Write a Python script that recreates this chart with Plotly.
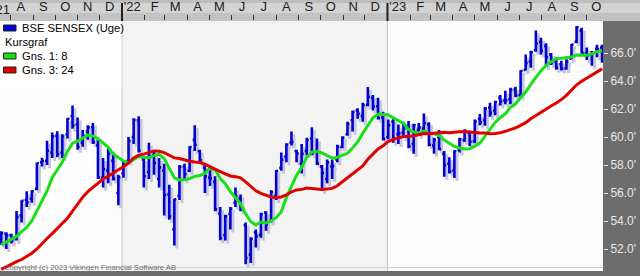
import pandas as pd
import plotly.graph_objects as go

# ---------------- data (BSE SENSEX weekly, thousands) ----------------
weeks = pd.date_range("2021-07-19", periods=119, freq="7D")

open_ = [52.6,53.1,53.0,52.7,54.4,55.5,55.6,56.3,58.2,58.3,
58.9,60.1,58.9,60.2,61.5,60.9,59.6,60.4,60.7,59.4,
57.1,57.6,58.3,56.0,57.4,58.3,60.0,61.2,58.4,57.5,
58.7,57.0,57.6,55.9,53.4,55.8,57.9,57.6,59.8,59.0,
57.8,57.1,56.8,54.5,53.0,54.5,55.3,55.6,53.7,51.6,
53.2,53.0,54.6,54.0,55.8,57.8,58.6,59.6,59.0,58.1,
59.0,59.9,59.0,57.9,57.0,57.9,58.4,59.3,60.2,61.2,
61.9,61.5,62.3,62.8,62.2,61.4,60.0,61.1,60.2,60.3,
60.8,59.5,60.5,60.6,60.9,59.4,60.0,58.8,58.1,57.6,
59.1,59.8,60.3,59.7,61.3,61.2,62.1,61.9,62.8,62.6,
62.7,63.4,63.0,64.8,65.4,66.2,66.8,66.5,65.9,65.4,
65.2,64.9,65.6,66.8,67.6,66.0,65.9,66.3,66.4]

high = [53.27,53.20,53.10,54.72,55.49,56.12,56.20,58.19,58.52,59.74,
60.33,60.41,60.20,61.35,62.25,61.40,60.50,60.85,61.00,59.80,
58.50,59.20,58.90,57.30,58.35,60.00,61.35,61.48,58.50,59.60,
59.00,58.50,58.10,56.60,55.60,58.00,58.10,59.35,60.85,59.10,
58.00,57.90,57.20,55.00,54.45,55.00,56.40,55.90,53.90,52.85,
53.40,54.60,54.70,56.20,57.65,58.90,59.55,60.40,59.10,59.50,
59.95,60.70,59.90,58.00,58.40,58.40,59.45,60.05,61.10,61.90,
62.05,62.45,63.58,63.00,62.80,61.80,61.25,61.35,60.90,61.10,
61.15,60.95,61.00,61.68,61.05,59.95,60.50,59.00,58.55,59.05,
59.95,60.55,60.45,61.25,61.65,62.15,62.45,62.60,63.00,63.30,
63.52,63.60,64.77,65.90,66.16,67.62,67.10,66.70,66.00,65.50,
65.45,65.55,66.65,67.93,67.80,66.40,66.15,66.59,66.60]

low = [52.30,52.00,52.40,52.60,53.90,55.00,55.30,56.20,57.90,58.00,
58.50,58.55,58.50,59.90,60.60,59.10,59.30,59.80,59.50,57.00,
56.40,56.70,56.90,55.13,57.10,58.20,59.50,58.90,56.40,57.00,
57.30,56.40,54.40,54.10,52.26,55.50,56.90,57.50,59.00,58.10,
56.00,56.50,54.70,52.63,52.60,53.40,55.00,54.70,50.92,51.00,
52.10,52.80,53.30,53.90,55.50,57.60,58.20,59.40,58.20,57.40,
58.70,58.70,58.00,56.15,56.70,57.00,58.20,59.20,60.10,60.40,
61.30,61.10,62.20,61.90,61.25,59.75,59.85,59.60,59.50,59.95,
59.20,58.80,60.10,60.40,59.35,58.80,59.05,57.16,57.40,57.08,
58.90,59.65,59.35,59.55,60.85,60.80,61.45,61.55,62.25,62.35,
62.35,62.85,62.85,64.75,64.95,66.10,65.90,65.00,65.15,64.80,
64.75,64.80,65.55,66.70,65.95,65.50,65.10,65.70,65.30]

close = [53.14,52.98,52.59,54.28,55.44,55.33,56.12,58.13,58.31,59.02,
60.05,58.77,60.06,61.31,60.82,59.31,60.07,60.69,59.64,57.11,
57.70,58.79,57.01,57.12,58.25,59.74,61.22,59.04,57.20,58.64,
58.15,57.83,55.86,54.33,55.55,57.86,57.36,59.28,59.45,58.34,
57.20,57.06,54.84,52.79,54.33,54.88,55.77,55.00,51.36,52.73,
52.91,54.48,53.76,56.07,57.57,58.39,59.46,59.65,58.83,58.80,
59.79,58.84,58.10,57.43,58.19,57.92,59.31,59.96,60.95,61.80,
61.66,62.29,62.87,62.18,61.34,59.85,60.84,59.90,60.26,60.62,
59.33,60.84,60.68,61.00,59.46,59.81,59.14,57.99,57.53,58.99,
59.83,60.43,59.66,61.11,61.05,62.03,61.73,62.50,62.55,62.63,
63.38,62.98,64.72,65.28,66.06,66.68,66.16,65.72,65.32,64.95,
64.89,65.39,66.60,67.84,66.01,65.83,65.99,66.28,65.40]

ma8 = [52.30,52.50,52.65,52.90,53.25,53.55,54.00,54.75,55.40,56.15,
57.09,57.65,58.22,58.97,59.56,59.71,59.93,60.14,60.08,59.88,
59.58,59.27,58.79,58.52,58.29,58.17,58.37,58.61,58.55,58.53,
58.67,58.76,58.46,57.78,57.08,56.93,56.95,57.03,57.19,57.25,
57.42,57.76,57.67,57.04,56.66,56.11,55.65,55.23,54.50,53.96,
53.72,53.93,53.86,54.01,54.24,54.66,55.67,56.54,57.28,57.82,
58.57,58.92,58.98,58.86,58.70,58.49,58.55,58.69,58.84,59.21,
59.65,60.26,60.85,61.38,61.63,61.62,61.60,61.37,61.19,60.98,
60.54,60.37,60.29,60.43,60.26,60.25,60.11,59.78,59.56,59.33,
59.22,59.15,59.17,59.34,59.57,60.08,60.60,61.04,61.38,61.66,
62.12,62.36,62.82,63.22,63.76,64.29,64.74,65.12,65.37,65.61,
65.63,65.65,65.71,65.86,65.84,65.85,65.94,66.10,66.17]

ma24 = [50.55,50.75,50.90,51.10,51.25,51.45,51.70,52.00,52.40,52.75,
53.10,53.45,53.80,54.20,54.70,55.20,55.70,56.10,56.40,56.65,
57.00,57.20,57.40,57.66,57.87,58.15,58.51,58.71,58.78,58.92,
59.01,58.99,58.89,58.70,58.51,58.47,58.36,58.27,58.22,58.18,
58.06,57.91,57.71,57.53,57.39,57.22,57.17,57.08,56.80,56.50,
56.16,55.97,55.82,55.72,55.69,55.72,55.87,56.09,56.22,56.26,
56.36,56.35,56.29,56.25,56.29,56.33,56.52,56.81,57.09,57.38,
57.62,57.93,58.41,58.80,59.15,59.38,59.67,59.83,59.94,60.04,
60.03,60.08,60.16,60.25,60.23,60.27,60.32,60.34,60.31,60.36,
60.38,60.40,60.35,60.32,60.29,60.28,60.23,60.25,60.30,60.41,
60.52,60.65,60.83,61.03,61.31,61.55,61.78,61.98,62.22,62.43,
62.67,62.98,63.36,63.73,63.99,64.21,64.48,64.69,64.87]

for arr in (open_, high, low, close, ma8, ma24):
    assert len(arr) == len(weeks), len(arr)

month_starts = pd.date_range("2021-08-01", "2023-10-01", freq="MS")
month_mids = month_starts + pd.Timedelta(days=14)
month_labels = ["A","S","O","N","D",
                "'22","F","M","A","M","J","J","A","S","O","N","D",
                "'23","F","M","A","M","J","J","A","S","O"]
year_starts = ["2022-01-01", "2023-01-01"]
y_ticks = [52, 54, 56, 58, 60, 62, 64, 66]
y_labels = ["52.0'", "54.0'", "56.0'", "58.0'", "60.0'", "62.0'", "64.0'", "66.0'"]
legend_names = ["BSE SENSEX (Uge)", "Kursgraf", "Gns. 1: 8", "Gns. 3: 24"]

# ---------------- style ----------------
BLUE = "#0000d4"
SHADOW = "#c6c6de"
GREEN = "#18e018"
RED = "#e00000"
PANEL = "#6d6d6d"
FONT = "Liberation Sans, Arial, sans-serif"

W, H = 640, 276
ML, MR, MT, MB = 0, 37, 21, 5
PW, PH = W - ML - MR, H - MT - MB

def px(xp):
    return (xp - ML) / PW

def py(yp):
    return (H - MB - yp) / PH

x_range = [pd.Timestamp("2021-07-17 07:00"), pd.Timestamp("2023-10-24 07:00")]
y_range = [50.43, 68.29]
# shadow scale: marks shifted ~2.5 px right and ~3 px down
days_per_px = (x_range[1] - x_range[0]) / PW
units_per_px = (y_range[1] - y_range[0]) / PH
x_range_sh = [x_range[0] - 2.5 * days_per_px, x_range[1] - 2.5 * days_per_px]
y_range_sh = [y_range[0] + 3 * units_per_px, y_range[1] + 3 * units_per_px]

fig = go.Figure()

fig.add_trace(go.Ohlc(
    x=weeks, open=open_, high=high, low=low, close=close,
    xaxis="x", yaxis="y",
    increasing=dict(line=dict(color=SHADOW, width=3)),
    decreasing=dict(line=dict(color=SHADOW, width=3)),
    tickwidth=0.4, hoverinfo="skip", showlegend=False))

fig.add_trace(go.Ohlc(
    x=weeks, open=open_, high=high, low=low, close=close,
    xaxis="x2", yaxis="y2",
    increasing=dict(line=dict(color=BLUE, width=2.6)),
    decreasing=dict(line=dict(color=BLUE, width=2.6)),
    tickwidth=0.4, hoverinfo="skip", showlegend=False))

fig.add_trace(go.Scatter(
    x=weeks, y=ma8, mode="lines", xaxis="x2", yaxis="y2",
    line=dict(color=GREEN, width=3), hoverinfo="skip", showlegend=False))

fig.add_trace(go.Scatter(
    x=weeks, y=ma24, mode="lines", xaxis="x3", yaxis="y2",
    line=dict(color=RED, width=3), hoverinfo="skip", showlegend=False))

shapes = []
# top band (gradient approximation)
band = [(0, 3, "#bdbdbd"), (3, 13, "#d3d3d3"), (13, 21, "#c2c2c2")]
for a, b, c in band:
    shapes.append(dict(type="rect", xref="paper", yref="paper",
                       x0=-0.01, x1=px(W + 5), y0=py(b), y1=py(a),
                       fillcolor=c, line=dict(width=0), layer="below"))
# 2022 shading
shapes.append(dict(type="rect", xref="x2", yref="paper",
                   x0=year_starts[0], x1=year_starts[1], y0=0, y1=1,
                   fillcolor="#f3f3f3", line=dict(width=0), layer="below"))
for ys in year_starts:
    shapes.append(dict(type="line", xref="x2", yref="paper", x0=ys, x1=ys,
                       y0=0, y1=1, line=dict(color="#c4c4c4", width=1), layer="below"))
    shapes.append(dict(type="line", xref="x2", yref="paper", x0=ys, x1=ys,
                       y0=1, y1=py(3), line=dict(color="#202020", width=2)))
# faint bottom line
shapes.append(dict(type="line", xref="paper", yref="paper", x0=0, x1=1,
                   y0=py(267.5), y1=py(267.5), line=dict(color="#d0d0d0", width=1),
                   layer="below"))
# legend box and swatches
shapes.append(dict(type="rect", xref="paper", yref="paper", x0=0, x1=px(121.5),
                   y0=py(88), y1=1, fillcolor="#ffffff", line=dict(width=0)))
for yc, col in [(28, BLUE), (56, GREEN), (70, RED)]:
    shapes.append(dict(type="rect", xref="paper", yref="paper",
                       x0=px(3.5), x1=px(16), y0=py(yc + 3), y1=py(yc - 3),
                       fillcolor=col, line=dict(color="#202020", width=1)))

annotations = []
for name, xl, yc in zip(legend_names, [20, 3, 20, 20], [28, 42, 56, 70]):
    annotations.append(dict(text=name, xref="paper", yref="paper", x=px(xl), y=py(yc),
                            xanchor="left", yanchor="middle", showarrow=False,
                            font=dict(family=FONT, size=11.2, color="#000000")))
annotations.append(dict(text="'21", xref="paper", yref="paper", x=px(1.5), y=py(9.5),
                        xanchor="center", yanchor="middle", showarrow=False,
                        font=dict(family=FONT, size=13, color="#202020")))
annotations.append(dict(text="Copyright (c) 2023 Vikingen Financial Software AB",
                        xref="paper", yref="paper", x=px(2), y=py(267),
                        xanchor="left", yanchor="middle", showarrow=False,
                        font=dict(family=FONT, size=7.7, color="#707070")))

fig.update_layout(
    width=W, height=H,
    margin=dict(l=ML, r=MR, t=MT, b=MB, pad=0),
    paper_bgcolor=PANEL, plot_bgcolor="#fdfdfd",
    showlegend=False, hovermode=False,
    font=dict(family=FONT),
    xaxis=dict(type="date", range=x_range_sh, visible=False,
               rangeslider=dict(visible=False), fixedrange=True),
    yaxis=dict(range=y_range_sh, visible=False, fixedrange=True),
    xaxis2=dict(type="date", range=x_range, overlaying="x", side="top",
                anchor="y2", rangeslider=dict(visible=False),
                tickmode="array", tickvals=list(month_starts),
                ticks="outside", ticklen=5, tickwidth=1, tickcolor="#303030",
                showticklabels=False, showgrid=False, zeroline=False, showline=False),
    xaxis3=dict(type="date", range=x_range, overlaying="x", side="top",
                anchor="y2",
                tickmode="array", tickvals=list(month_mids), ticktext=month_labels,
                ticks="outside", ticklen=4, tickcolor="rgba(0,0,0,0)",
                tickfont=dict(family=FONT, size=13, color="#202020"),
                showgrid=False, zeroline=False, showline=False),
    yaxis2=dict(range=y_range, overlaying="y", side="right", anchor="x2",
                tickmode="array", tickvals=y_ticks, ticktext=y_labels,
                ticks="outside", ticklen=4, tickwidth=1, tickcolor="#e6e6e6",
                tickfont=dict(family=FONT, size=12, color="#e8e8e8"),
                showgrid=False, zeroline=False, showline=False),
    shapes=shapes,
    annotations=annotations,
)

fig.write_html("out.html", config={"displayModeBar": False})
